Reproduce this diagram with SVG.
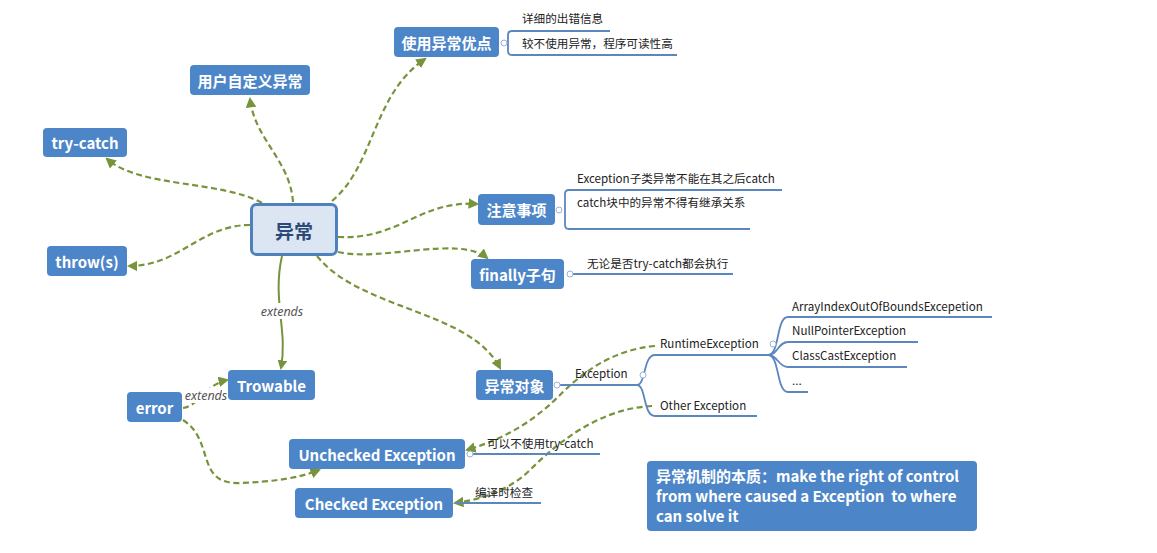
<svg xmlns="http://www.w3.org/2000/svg" width="1157" height="553" viewBox="0 0 1157 553">
<defs>
<marker id="arr" viewBox="0 0 10 10" refX="8" refY="5" markerWidth="4.8" markerHeight="4.8" orient="auto-start-reverse">
<path d="M0,0 L10,5 L0,10 z" fill="#77933C"/>
</marker>
<style>
.box{fill:#4D86C8;}
.bt{fill:#fff;font-family:"Noto Sans CJK SC","Noto Sans",sans-serif;font-weight:bold;font-size:15px;text-anchor:middle;dominant-baseline:central;}
.st{fill:#222;font-family:"Noto Sans CJK SC","Noto Sans",sans-serif;font-size:11.6px;}
.sl{fill:none;stroke:#5B87BF;stroke-width:1.8;}
.dc{fill:none;stroke:#77933C;stroke-width:2.2;stroke-dasharray:6 3.5;marker-end:url(#arr);}
.cc{fill:#fff;stroke:#9AB3D5;stroke-width:1;}
.lbl{fill:#555;font-family:"Noto Sans","Open Sans",sans-serif;font-style:italic;font-size:12.5px;text-anchor:middle;dominant-baseline:central;}
</style>
</defs>
<rect width="1157" height="553" fill="#fff"/>

<g id="connectors">
<path class="dc" d="M332 201 C375 165 372 95 425 59"/>
<path class="dc" d="M293 202 C290 160 255 140 250 99"/>
<path class="dc" d="M262 203 C220 180 140 188 107 159"/>
<path class="dc" d="M250 225 C200 225 180 266 129 266"/>
<path class="dc" d="M338 237 C400 240 420 200 477 204"/>
<path class="dc" d="M338 252 C380 262 460 235 487 258"/>
<path class="dc" d="M317 256 C360 310 470 310 500 368"/>
<path fill="none" stroke="#77933C" stroke-width="2" marker-end="url(#arr)" d="M282 256 C272 300 288 330 281 368"/>
<rect x="256" y="303" width="52" height="16" fill="#fff"/>
<text class="lbl" x="282" y="311">extends</text>
<path class="dc" d="M183 408 C200 405 205 385 227 380"/>
<rect x="183" y="388" width="47" height="15" fill="#fff"/>
<text class="lbl" x="206" y="395">extends</text>
<path class="dc" d="M183 420 C215 440 195 485 240 483 C270 482 300 478 319 470"/>
<path class="dc" d="M655 346 C610 350 580 375 560 395 C530 425 500 440 467 450"/>
<path class="dc" d="M652 406 C610 408 570 430 530 470 C510 490 480 500 455 503"/>
</g>

<g id="subtopics">
<path class="sl" d="M610 31 H512 Q508 31 508 35 V51 Q508 55 512 55 H677"/>
<circle class="cc" cx="504" cy="43" r="3"/>
<text class="st" x="522" y="23">详细的出错信息</text>
<text class="st" x="522" y="48">较不使用异常，程序可读性高</text>

<path class="sl" d="M782 190 H569 Q565 190 565 194 V225 Q565 229 569 229 H750"/>
<circle class="cc" cx="559" cy="210" r="3"/>
<text class="st" x="577" y="183">Exception子类异常不能在其之后catch</text>
<text class="st" x="577" y="207">catch块中的异常不得有继承关系</text>

<path class="sl" d="M573 274 H733"/>
<circle class="cc" cx="570" cy="274" r="3"/>
<text class="st" x="587" y="268">无论是否try-catch都会执行</text>

<path class="sl" d="M560 385 H637"/>
<circle class="cc" cx="557" cy="385" r="3"/>
<text class="st" x="575" y="378">Exception</text>
<path class="sl" d="M637 385 C646 385 643 355 655 355 H768"/>
<path class="sl" d="M637 385 C646 385 643 416 655 416 H757"/>
<circle class="cc" cx="643" cy="375" r="3"/>
<text class="st" x="660" y="348">RuntimeException</text>
<text class="st" x="660" y="410">Other Exception</text>

<path class="sl" d="M768 355 C780 355 776 317 788 317 H992"/>
<path class="sl" d="M768 355 C778 355 778 342 788 342 H918"/>
<path class="sl" d="M768 355 C778 355 778 367 788 367 H907"/>
<path class="sl" d="M768 355 C780 355 776 392 788 392 H808"/>
<circle class="cc" cx="773" cy="344" r="3"/>
<text class="st" x="792" y="311">ArrayIndexOutOfBoundsExcepetion</text>
<text class="st" x="792" y="335">NullPointerException</text>
<text class="st" x="792" y="360">ClassCastException</text>
<text class="st" x="792" y="385">...</text>

<path class="sl" d="M473 454 H600"/>
<circle class="cc" cx="470" cy="454" r="3"/>
<text class="st" x="487" y="448">可以不使用try-catch</text>

<path class="sl" d="M456 503 H541"/>
<text class="st" x="475" y="497">编译时检查</text>
</g>

<g id="n-center">
<rect x="251.5" y="204.5" width="85" height="50" rx="5" fill="#DCE6F2" stroke="#4F81BD" stroke-width="3"/>
<text x="294" y="230" fill="#2B4A78" font-family="Noto Sans CJK SC,sans-serif" font-weight="bold" font-size="19" text-anchor="middle" dominant-baseline="central">异常</text>
</g>
<g id="n-youdian"><rect class="box" x="394" y="27" width="105" height="30" rx="4"/><text class="bt" x="446.5" y="42">使用异常优点</text></g>
<g id="n-zidingyi"><rect class="box" x="190" y="65" width="120" height="30" rx="4"/><text class="bt" x="250" y="80">用户自定义异常</text></g>
<g id="n-trycatch"><rect class="box" x="43" y="128" width="84" height="29" rx="4"/><text class="bt" x="85" y="142.5">try-catch</text></g>
<g id="n-throws"><rect class="box" x="47" y="246" width="80" height="30" rx="4"/><text class="bt" x="87" y="261">throw(s)</text></g>
<g id="n-zhuyi"><rect class="box" x="478" y="194" width="77" height="31" rx="4"/><text class="bt" x="516.5" y="209.5">注意事项</text></g>
<g id="n-finally"><rect class="box" x="471" y="259" width="93" height="30" rx="4"/><text class="bt" x="517.5" y="274">finally子句</text></g>
<g id="n-duixiang"><rect class="box" x="476" y="370" width="77" height="30" rx="4"/><text class="bt" x="514.5" y="385">异常对象</text></g>
<g id="n-trowable"><rect class="box" x="228" y="370" width="87" height="30" rx="4"/><text class="bt" x="271.5" y="385">Trowable</text></g>
<g id="n-error"><rect class="box" x="127" y="392" width="55" height="30" rx="4"/><text class="bt" x="154.5" y="407">error</text></g>
<g id="n-unchecked"><rect class="box" x="289" y="439" width="176" height="30" rx="4"/><text class="bt" x="377" y="454">Unchecked Exception</text></g>
<g id="n-checked"><rect class="box" x="295" y="488" width="158" height="30" rx="4"/><text class="bt" x="374" y="503">Checked Exception</text></g>
<g id="n-note">
<rect class="box" x="647" y="461" width="330" height="70" rx="4"/>
<text fill="#fff" font-family="Noto Sans CJK SC,sans-serif" font-weight="bold" font-size="15" xml:space="preserve"><tspan x="656" y="482">异常机制的本质：make the right of control</tspan><tspan x="656" y="502">from where caused a Exception  to where</tspan><tspan x="656" y="522">can solve it</tspan></text>
</g>
</svg>
